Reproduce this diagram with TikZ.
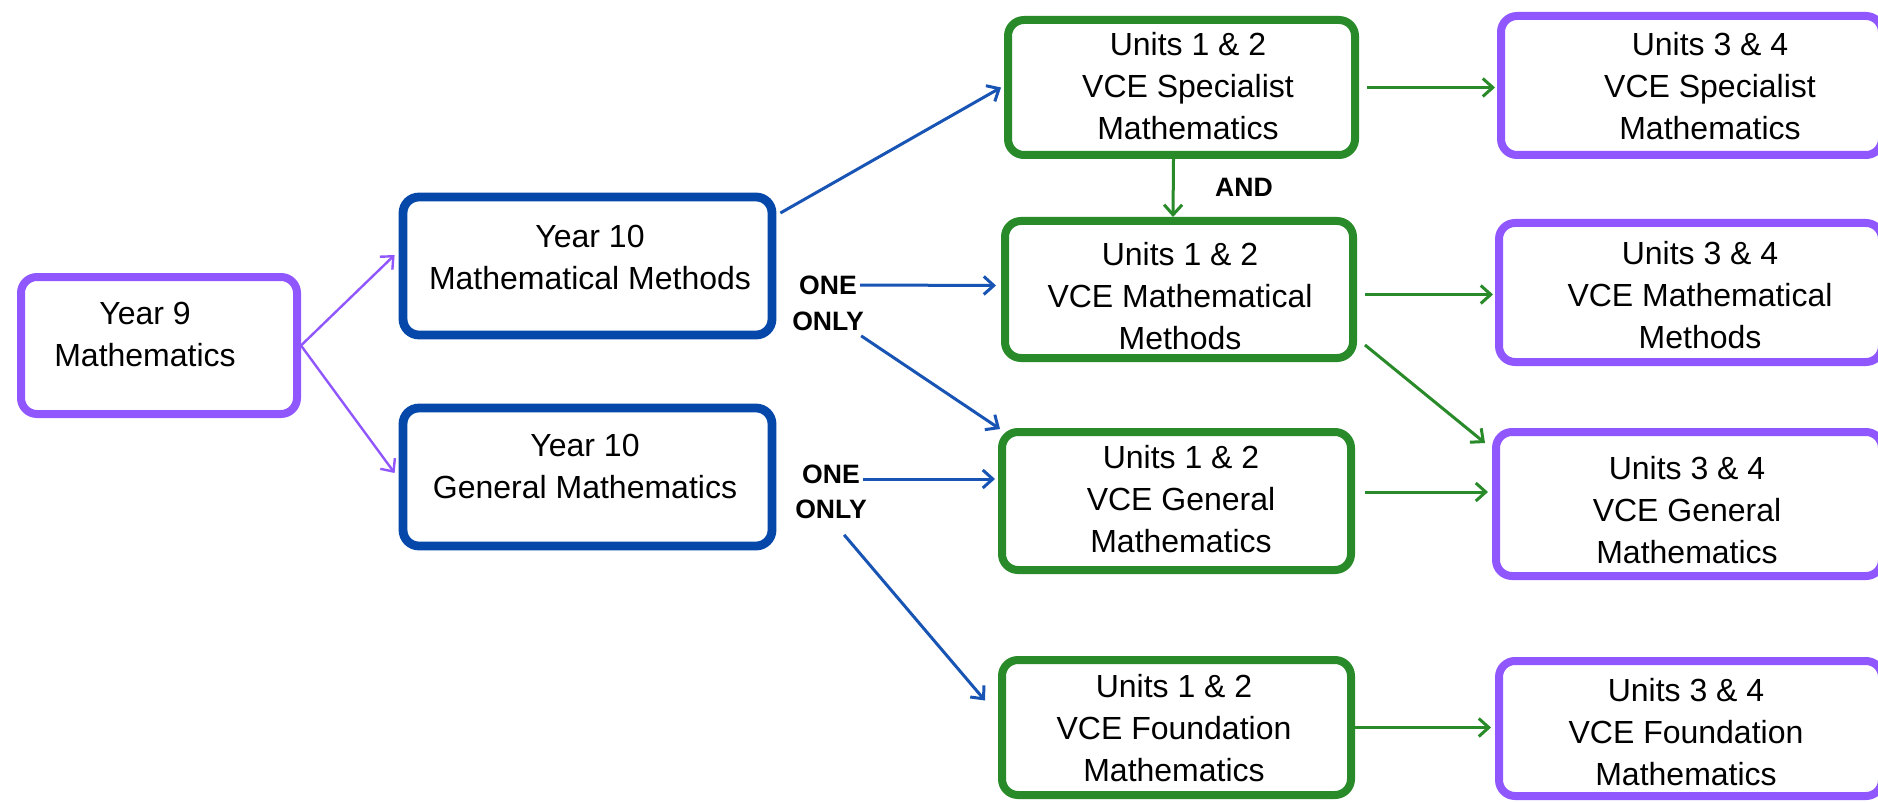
\documentclass[tikz,border=0pt]{standalone}
\usepackage{fontspec}
\setmainfont{Liberation Sans}
\usetikzlibrary{arrows.meta,calc}
\definecolor{vpurple}{RGB}{145,87,255}
\definecolor{vblue}{RGB}{6,72,170}
\definecolor{ablue}{RGB}{24,84,180}
\definecolor{vgreen}{RGB}{40,138,40}
\begin{document}
\begin{tikzpicture}[x=0.5pt,y=-0.5pt,
  box/.style={draw, line width=4pt, rounded corners=8pt, fill=white, inner sep=0pt},
  pbox/.style={box, draw=vpurple},
  bbox/.style={box, draw=vblue, line width=4.4pt},
  gbox/.style={box, draw=vgreen},
  txt/.style={align=center, inner sep=0pt, font=\fontsize{16}{21}\selectfont, text=black},
  lbl/.style={inner sep=0pt, font=\fontsize{13.3}{17}\selectfont\bfseries, text=black},
  arr/.style={line width=1.5pt, -{Straight Barb[length=5pt,width=9pt]}},
  parr/.style={arr, line width=1.2pt, draw=vpurple},
  barr/.style={arr, draw=ablue},
  garr/.style={arr, draw=vgreen},
]
\useasboundingbox (0,0) rectangle (1878,802);
\fill[white] (0,0) rectangle (1878,802);
\clip (0,0) rectangle (1878,802);

% boxes
\node[pbox, minimum width=138pt, minimum height=68.5pt] (y9) at (159,345.5) {};
\node[bbox, minimum width=184.5pt, minimum height=69pt] (y10mm) at (587.5,266) {};
\node[bbox, minimum width=184.5pt, minimum height=69pt] (y10gm) at (587.5,477) {};
\node[gbox, minimum width=173.5pt, minimum height=67.5pt] (u12s) at (1181.5,87.5) {};
\node[gbox, minimum width=174pt, minimum height=68.5pt] (u12m) at (1179,289.5) {};
\node[gbox, minimum width=174.5pt, minimum height=69pt] (u12g) at (1176.5,501) {};
\node[gbox, minimum width=174.5pt, minimum height=67.5pt] (u12f) at (1176.5,727.5) {};
\node[pbox, minimum width=190.5pt, minimum height=69.5pt] (u34s) at (1691.5,85.5) {};
\node[pbox, minimum width=191.5pt, minimum height=69.5pt] (u34m) at (1690.5,292.5) {};
\node[pbox, minimum width=193pt, minimum height=72pt] (u34g) at (1689,504) {};
\node[pbox, minimum width=191.5pt, minimum height=67.5pt] (u34f) at (1690.5,728.5) {};

% texts
\node[txt] (y9t) at (145,334) {Year 9\\Mathematics};
\node[txt] (y10mmt) at (590,257) {Year 10\\Mathematical Methods};
\node[txt] (y10gmt) at (585,466.5) {Year 10\\General Mathematics};
\node[txt] (u12st) at (1188,86) {Units 1 \& 2\\VCE Specialist\\Mathematics};
\node[txt] (u12mt) at (1180,296) {Units 1 \& 2\\VCE Mathematical\\Methods};
\node[txt] (u12gt) at (1181,499) {Units 1 \& 2\\VCE General\\Mathematics};
\node[txt] (u12ft) at (1174,728) {Units 1 \& 2\\VCE Foundation\\Mathematics};
\node[txt] (u34st) at (1710,86) {Units 3 \& 4\\VCE Specialist\\Mathematics};
\node[txt] (u34mt) at (1700,295) {Units 3 \& 4\\VCE Mathematical\\Methods};
\node[txt] (u34gt) at (1687,510) {Units 3 \& 4\\VCE General\\Mathematics};
\node[txt] (u34ft) at (1686,732) {Units 3 \& 4\\VCE Foundation\\Mathematics};

% labels
\node[lbl] (one1) at (828,285) {ONE};
\node[lbl] (only1) at (828,321) {ONLY};
\node[lbl] (one2) at (831,474) {ONE};
\node[lbl] (only2) at (831,509) {ONLY};
\node[lbl] (and) at (1244,187) {AND};

% connectors
\draw[parr] (y9.east) -- ($(y10mm.west)+(-4,-11)$);
\draw[parr] (y9.east) -- ($(y10gm.west)+(-4,-4)$);
\draw[barr] ($(y10mm.east)+(4,-53)$) -- ($(u12s.west)+(-3,0)$);
\draw[barr] ($(one1.east)+(3,0)$) -- ($(u12m.west)+(-5,-4)$);
\draw[barr] ($(only1.south east)+(-3,5)$) -- ($(u12g.north west)+(2,1)$);
\draw[barr] ($(one2.east)+(3,5)$) -- ($(u12g.west)+(-3,-22)$);
\draw[barr] ($(only2.south east)+(-23,16)$) -- ($(u12f.west)+(-13,-27)$);

\draw[garr] ($(u12s.south)+(-8,0)$) -- ($(u12m.north)+(-6,0)$);
\draw[garr] ($(u12s.east)+(8,0)$) -- ($(u34s.west)+(-2,2)$);
\draw[garr] ($(u12m.east)+(8,5)$) -- ($(u34m.west)+(-2,2)$);
\draw[garr] ($(u12m.south east)+(8,-17)$) -- ($(u34g.north west)+(-7,15)$);
\draw[garr] ($(u12g.east)+(10,-9)$) -- ($(u34g.west)+(-4,-12)$);
\draw[garr] (u12f.east) -- ($(u34f.west)+(-4,-1)$);
\end{tikzpicture}
\end{document}
